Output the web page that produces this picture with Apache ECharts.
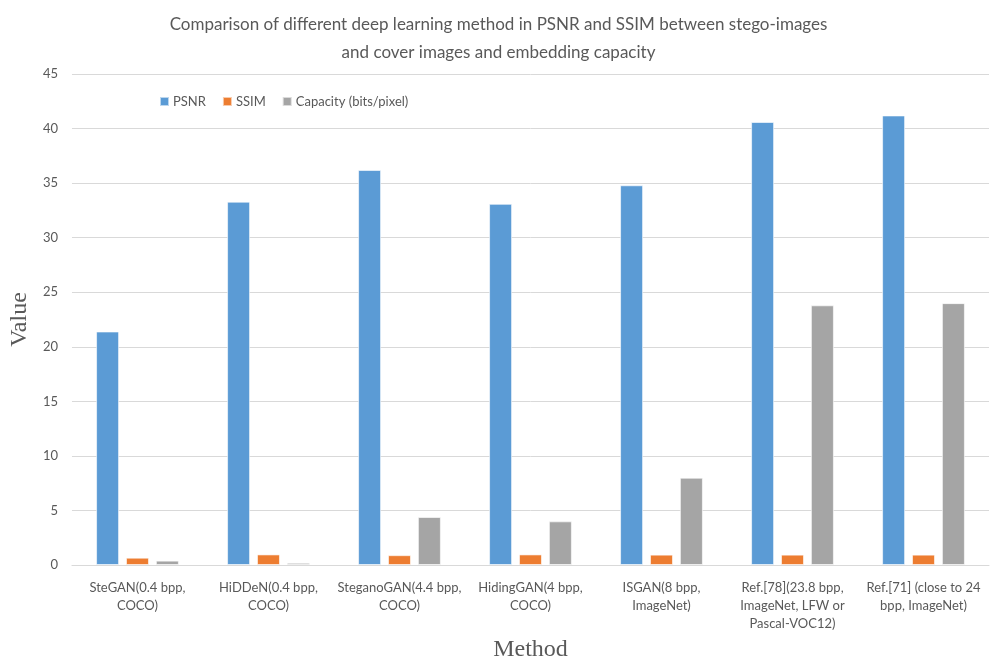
<!DOCTYPE html>
<html><head><meta charset="utf-8">
<script src="https://cdn.jsdelivr.net/npm/echarts@6/dist/echarts.min.js"></script>
<style>html,body{margin:0;padding:0;background:#fff}#c{width:997px;height:667px}</style>
</head><body><div id="c"></div>
<script>
var categories = ["SteGAN(0.4 bpp,\nCOCO)", "HiDDeN(0.4 bpp,\nCOCO)", "SteganoGAN(4.4 bpp,\nCOCO)", "HidingGAN(4 bpp,\nCOCO)", "ISGAN(8 bpp,\nImageNet)", "Ref.[78](23.8 bpp,\nImageNet, LFW or\nPascal-VOC12)", "Ref.[71] (close to 24\nbpp, ImageNet)"];
var psnr = [21.4, 33.3, 36.2, 33.1, 34.8, 40.6, 41.2];
var ssim = [0.67, 0.97, 0.9, 0.97, 0.95, 0.95, 0.95];
var capacity = [0.4, 0.2, 4.4, 4.0, 8.0, 23.8, 24.0];
var yTicks = [0, 5, 10, 15, 20, 25, 30, 35, 40, 45];

var font = "Lato, 'Open Sans', sans-serif";
var chart = echarts.init(document.getElementById('c'));
var barStyle = function(c){ return {color: c, borderColor: 'rgba(255,255,255,0.6)', borderWidth: 1}; };
chart.setOption({
  animation: false,
  textStyle: {fontFamily: font},
  title: {
    text: "Comparison of different deep learning method in PSNR and SSIM between stego-images\nand cover images and embedding capacity",
    left: 'center', top: 6,
    textStyle: {fontFamily: font, fontSize: 17, fontWeight: 'normal', color: '#595959', lineHeight: 28, align: 'center'}
  },
  legend: {
    left: 154, top: 90, itemWidth: 9, itemHeight: 9, itemGap: 16,
    icon: 'rect',
    textStyle: {fontFamily: font, fontSize: 13, color: '#595959', padding: [0,0,0,-1]},
    data: ['PSNR', 'SSIM', 'Capacity (bits/pixel)']
  },
  grid: {left: 68, right: 8, top: 74, bottom: 97, containLabel: false},
  xAxis: {
    type: 'category', data: categories,
    name: 'Method', nameLocation: 'middle', nameGap: 73,
    nameTextStyle: {fontFamily: "'Liberation Serif', 'DejaVu Serif', serif", fontSize: 24, color: '#595959'},
    axisLine: {lineStyle: {color: '#d9d9d9', width: 1}},
    axisTick: {show: false},
    axisLabel: {interval: 0, fontFamily: font, fontSize: 13, color: '#595959', lineHeight: 18, margin: 14}
  },
  yAxis: {
    type: 'value', min: yTicks[0], max: yTicks[yTicks.length-1], interval: 5,
    name: 'Value', nameLocation: 'middle', nameGap: 38,
    nameTextStyle: {fontFamily: "'Liberation Serif', 'DejaVu Serif', serif", fontSize: 24, color: '#595959'},
    axisLine: {show: false}, axisTick: {show: false},
    axisLabel: {fontFamily: font, fontSize: 13, color: '#595959', margin: 14},
    splitLine: {lineStyle: {color: '#d9d9d9', width: 1}}
  },
  series: [
    {name: 'PSNR', type: 'bar', data: psnr, barWidth: 23, barGap: '30%', itemStyle: barStyle('#5B9BD5')},
    {name: 'SSIM', type: 'bar', data: ssim, barWidth: 23, barGap: '30%', itemStyle: barStyle('#ED7D31')},
    {name: 'Capacity (bits/pixel)', type: 'bar', data: capacity, barWidth: 23, barGap: '30%', itemStyle: barStyle('#A5A5A5')}
  ]
});
</script></body></html>
